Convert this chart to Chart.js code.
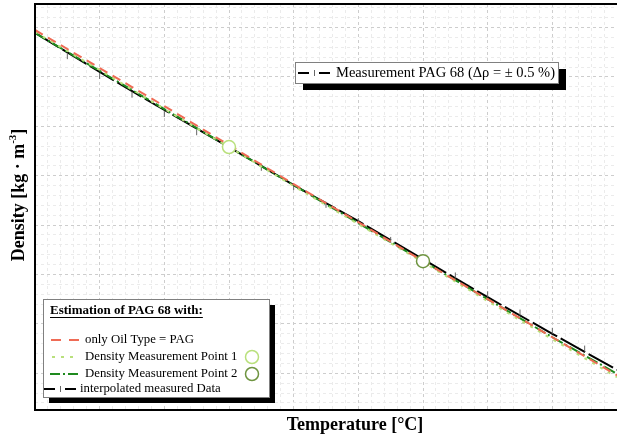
<!DOCTYPE html>
<html lang="en">
<head>
    <meta charset="UTF-8">
    <title>Density PAG 68</title>
    <script src="https://cdn.jsdelivr.net/npm/chart.js"></script>
    <style>
        body {
            margin: 0;
            background-color: #fff;
        }
        .chart-container {
            position: relative;
            width: 617px;
            height: 437px;
        }
    </style>
</head>
<body>

    <div class="chart-container">
        <canvas id="densityChart"></canvas>
    </div>

    <script>
        // temperature in °C, density in kg/m³
        const temperatures = [0, 10, 20, 30, 40, 50, 60, 70, 80, 90];
        const onlyOilType = [1009.5, 1001.8, 994.1, 986.2, 978.3, 970.6, 962.7, 955.0, 947.3, 939.6];
        const measPoint1 = [1009.1, 1001.4, 993.5, 985.8, 977.9, 970.2, 962.5, 954.6, 946.9, 939.2];
        const measPoint2 = [1008.9, 1001.2, 993.5, 985.8, 978.1, 970.4, 962.7, 955.0, 947.3, 939.9];
        const interpolated = [1008.9, 1001.0, 993.3, 985.8, 978.1, 970.8, 963.1, 955.4, 948.0, 940.7];

        const measTemps = [5, 10, 15, 20, 25, 30, 35, 40, 45, 50, 55, 60, 65, 70, 75, 80, 85];
        const measDensity = [1004.2, 1000.2, 996.4, 992.5, 988.8, 985.4, 981.6, 977.7, 974.1,
                             970.8, 967.0, 963.2, 959.8, 956.0, 952.3, 948.6, 945.0];

        const point1 = { t: 30, rho: 985.8 };
        const point2 = { t: 60, rho: 962.7 };

        const xGrid = [];
        for (let t = 0; t <= 90; t += 2) xGrid.push(t);
        const yGrid = [];
        for (let r = 934; r <= 1014; r += 2) yGrid.push(r);

        const RED = '#ef6b55';
        const LIGHT_GREEN = '#b9e07c';
        const DARK_GREEN = '#1e8a1e';
        const P2_CIRCLE = '#6e9440';
        const SERIF = '"Liberation Serif", "Times New Roman", serif';

        function xy(xs, ys) {
            return xs.map((x, i) => ({ x: x, y: ys[i] }));
        }

        function seg(ctx, x1, x2, y, color, width, dash) {
            ctx.save();
            ctx.strokeStyle = color;
            ctx.lineWidth = width;
            ctx.setLineDash(dash || []);
            ctx.beginPath();
            ctx.moveTo(x1, y);
            ctx.lineTo(x2, y);
            ctx.stroke();
            ctx.restore();
        }

        function measSample(ctx, x, y) {
            seg(ctx, x, x + 11, y, '#000', 2);
            ctx.save();
            ctx.strokeStyle = '#666';
            ctx.lineWidth = 1;
            ctx.beginPath();
            ctx.moveTo(x + 16.5, y - 3);
            ctx.lineTo(x + 16.5, y + 3);
            ctx.stroke();
            ctx.restore();
            seg(ctx, x + 21, x + 32, y, '#000', 2);
        }

        function circle(ctx, x, y, color) {
            ctx.save();
            ctx.strokeStyle = color;
            ctx.lineWidth = 1.5;
            ctx.fillStyle = '#fff';
            ctx.beginPath();
            ctx.arc(x, y, 6.5, 0, Math.PI * 2);
            ctx.fill();
            ctx.stroke();
            ctx.restore();
        }

        function shadowBox(ctx, x, y, w, h, dx, dy) {
            ctx.fillStyle = '#000';
            ctx.fillRect(x + dx, y + dy, w, h);
            ctx.fillStyle = '#fff';
            ctx.fillRect(x, y, w, h);
            ctx.strokeStyle = '#808080';
            ctx.lineWidth = 1;
            ctx.strokeRect(x + 0.5, y + 0.5, w, h);
        }

        const framePlugin = {
            id: 'frame',
            afterDraw(chart) {
                const ctx = chart.ctx;
                const a = chart.chartArea;
                ctx.save();

                // plot frame
                ctx.strokeStyle = '#000';
                ctx.lineWidth = 2;
                ctx.beginPath();
                ctx.moveTo(chart.width, a.top);
                ctx.lineTo(a.left, a.top);
                ctx.lineTo(a.left, a.bottom);
                ctx.lineTo(chart.width, a.bottom);
                ctx.stroke();

                // axis titles
                ctx.fillStyle = '#000';
                ctx.textBaseline = 'middle';
                ctx.textAlign = 'center';
                ctx.font = 'bold 18px ' + SERIF;
                ctx.fillText('Temperature [°C]', 355, 425);

                ctx.save();
                ctx.translate(19, 195);
                ctx.rotate(-Math.PI / 2);
                ctx.textAlign = 'left';
                ctx.font = 'bold 18px ' + SERIF;
                const main = 'Density [kg · m';
                const wMain = ctx.measureText(main).width;
                ctx.font = 'bold 11px ' + SERIF;
                const wSup = ctx.measureText('-3').width;
                ctx.font = 'bold 18px ' + SERIF;
                const wEnd = ctx.measureText(']').width;
                let sx = -(wMain + wSup + wEnd) / 2;
                ctx.fillText(main, sx, 0);
                sx += wMain;
                ctx.font = 'bold 11px ' + SERIF;
                ctx.fillText('-3', sx, -6);
                sx += wSup;
                ctx.font = 'bold 18px ' + SERIF;
                ctx.fillText(']', sx, 0);
                ctx.restore();

                // top legend
                shadowBox(ctx, 295, 62, 263, 21, 8, 7);
                measSample(ctx, 298, 73);
                ctx.fillStyle = '#000';
                ctx.textAlign = 'left';
                ctx.font = '14.5px ' + SERIF;
                ctx.fillText('Measurement PAG 68 (\u0394\u03C1 = \u00B1 0.5 %)', 336, 73);

                // bottom legend
                shadowBox(ctx, 43, 299, 226, 98, 6, 6);
                ctx.fillStyle = '#000';
                ctx.font = 'bold 13px ' + SERIF;
                const title = 'Estimation of PAG 68 with:';
                ctx.fillText(title, 50, 311);
                const tw = ctx.measureText(title).width;
                ctx.fillRect(50, 317, tw, 1);

                ctx.font = '12.8px ' + SERIF;
                seg(ctx, 51, 79, 340, RED, 2, [10, 8]);
                ctx.fillText('only Oil Type = PAG', 85, 340);

                seg(ctx, 52, 78, 357, LIGHT_GREEN, 2, [3, 6]);
                ctx.fillText('Density Measurement Point 1', 85, 357);
                circle(ctx, 252, 357, LIGHT_GREEN);

                seg(ctx, 50, 79, 374, DARK_GREEN, 2, [10, 3, 2, 3]);
                ctx.fillStyle = '#000';
                ctx.fillText('Density Measurement Point 2', 85, 374);
                circle(ctx, 252, 374, P2_CIRCLE);

                measSample(ctx, 44, 389);
                ctx.fillStyle = '#000';
                ctx.fillText('interpolated measured Data', 80, 389);

                ctx.restore();
            }
        };

        const lineBase = {
            borderWidth: 2,
            pointRadius: 0,
            fill: false,
            tension: 0
        };

        const ctx = document.getElementById('densityChart').getContext('2d');
        const densityChart = new Chart(ctx, {
            type: 'line',
            data: {
                datasets: [
                    {
                        label: 'Density Measurement Point 1 (marker)',
                        data: [{ x: point1.t, y: point1.rho }],
                        showLine: false,
                        pointRadius: 6.5,
                        pointBorderWidth: 1.5,
                        pointBorderColor: LIGHT_GREEN,
                        pointBackgroundColor: '#fff',
                        order: 0
                    },
                    {
                        label: 'Density Measurement Point 2 (marker)',
                        data: [{ x: point2.t, y: point2.rho }],
                        showLine: false,
                        pointRadius: 6.5,
                        pointBorderWidth: 1.5,
                        pointBorderColor: P2_CIRCLE,
                        pointBackgroundColor: '#fff',
                        order: 0
                    },
                    {
                        ...lineBase,
                        label: 'only Oil Type = PAG',
                        data: xy(temperatures, onlyOilType),
                        borderColor: RED,
                        borderDash: [9, 6],
                        order: 1
                    },
                    {
                        ...lineBase,
                        label: 'Density Measurement Point 1',
                        data: xy(temperatures, measPoint1),
                        borderColor: LIGHT_GREEN,
                        borderDash: [3, 6],
                        order: 2
                    },
                    {
                        ...lineBase,
                        label: 'Density Measurement Point 2',
                        data: xy(temperatures, measPoint2),
                        borderColor: DARK_GREEN,
                        borderDash: [12, 3, 2, 3],
                        order: 3
                    },
                    {
                        label: 'Measurement PAG 68',
                        data: xy(measTemps, measDensity),
                        showLine: false,
                        pointStyle: 'line',
                        rotation: 90,
                        pointRadius: 3,
                        pointBorderWidth: 1,
                        pointBorderColor: '#666',
                        order: 4
                    },
                    {
                        ...lineBase,
                        label: 'interpolated measured Data',
                        data: xy(temperatures, interpolated),
                        borderColor: '#000',
                        borderDash: [28, 4],
                        order: 5
                    }
                ]
            },
            options: {
                responsive: true,
                maintainAspectRatio: false,
                animation: false,
                layout: { autoPadding: false, padding: { left: 35, top: 4, right: 0, bottom: 27 } },
                plugins: {
                    legend: { display: false },
                    tooltip: { enabled: false }
                },
                scales: {
                    x: {
                        type: 'linear',
                        min: 0,
                        max: 90,
                        afterBuildTicks: scale => { scale.ticks = xGrid.map(v => ({ value: v })); },
                        ticks: { display: false },
                        border: { display: false, dash: [3, 3] },
                        grid: {
                            drawTicks: false,
                            lineWidth: 1,
                            color: c => (c.tick && c.tick.value % 10 === 0) ? '#cdcdcd' : '#ebebeb'
                        }
                    },
                    y: {
                        type: 'linear',
                        min: 932.57,
                        max: 1014.76,
                        afterBuildTicks: scale => { scale.ticks = yGrid.map(v => ({ value: v })); },
                        ticks: { display: false },
                        border: { display: false, dash: [3, 3] },
                        grid: {
                            drawTicks: false,
                            lineWidth: 1,
                            color: c => (c.tick && c.tick.value % 10 === 0) ? '#cdcdcd' : '#ebebeb'
                        }
                    }
                }
            },
            plugins: [framePlugin]
        });
    </script>

</body>
</html>
